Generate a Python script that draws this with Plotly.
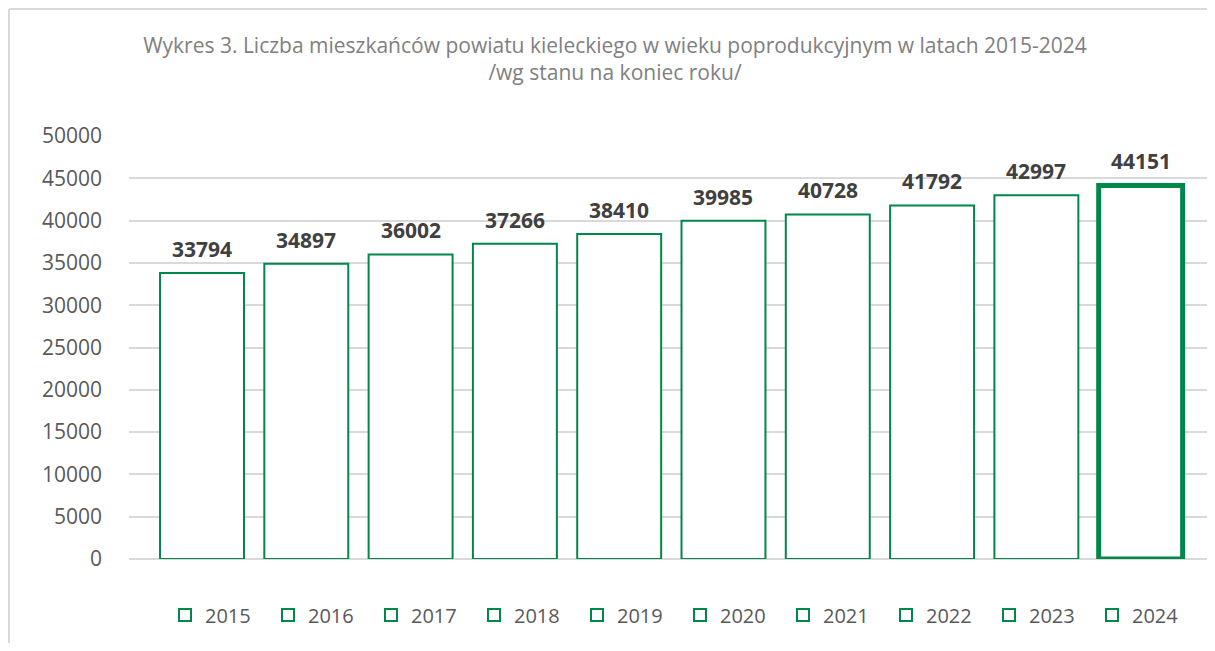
import plotly.graph_objects as go

years = ["2015", "2016", "2017", "2018", "2019", "2020", "2021", "2022", "2023", "2024"]
values = [33794, 34897, 36002, 37266, 38410, 39985, 40728, 41792, 42997, 44151]
line_widths = [2, 2, 2, 2, 2, 2, 2, 2, 2, 5]

GREEN = "#00884b"
FONT = "Open Sans"

fig = go.Figure()
for i, (yr, val, lw) in enumerate(zip(years, values, line_widths)):
    fig.add_trace(go.Bar(
        x=[yr], y=[val], name=yr, width=0.805, showlegend=False,
        marker=dict(color="white", line=dict(color=GREEN, width=lw)),
    ))
    fig.add_annotation(
        x=i, y=val, text=f"<b>{val}</b>", showarrow=False,
        yanchor="bottom", yshift=8,
        font=dict(family=FONT, size=21, color="#404040"),
    )
# legend entries (thin outline squares for every year)
for yr in years:
    fig.add_trace(go.Bar(
        x=[yr], y=[None], name=yr, showlegend=True,
        marker=dict(color="white", line=dict(color=GREEN, width=2)),
    ))

W, H = 1199, 635
L, R, T, B = 121, 0, 128, 84
pw = W - L - R
ph = H - T - B

def px_x(p):
    return (p - L) / pw

def px_y(p):
    return (H - B - p) / ph

fig.add_shape(type="line", xref="paper", yref="paper",
              x0=px_x(1), x1=px_x(W), y0=px_y(1), y1=px_y(1),
              line=dict(color="#d9d9d9", width=2))
fig.add_shape(type="line", xref="paper", yref="paper",
              x0=px_x(1), x1=px_x(1), y0=px_y(1), y1=px_y(H),
              line=dict(color="#d9d9d9", width=2))

fig.update_layout(
    width=W, height=H,
    margin=dict(l=L, r=R, t=T, b=B, autoexpand=False),
    paper_bgcolor="white", plot_bgcolor="white",
    barmode="overlay",
    font=dict(family=FONT, color="#595959"),
    title=dict(
        text="Wykres 3. Liczba mieszkańców powiatu kieleckiego w wieku poprodukcyjnym w latach 2015-2024<br>/wg stanu na koniec roku/",
        x=607 / W, xanchor="center", xref="container",
        y=1 - 45 / H, yanchor="middle", yref="container",
        font=dict(family=FONT, size=21, color="#808080"),
    ),
    xaxis=dict(
        type="category", range=[-0.70, 9.636], showticklabels=False,
        showgrid=False, zeroline=False, showline=False, ticks="",
    ),
    yaxis=dict(
        range=[0, 50000], dtick=5000, tickformat="d",
        showgrid=True, gridcolor="#d9d9d9", gridwidth=1.5,
        zeroline=True, zerolinecolor="#d9d9d9", zerolinewidth=1.5,
        showline=False, ticks="", ticklabelstandoff=26, automargin=False,
        tickfont=dict(family=FONT, size=21, color="#595959"),
    ),
    showlegend=True,
    legend=dict(
        orientation="h", x=px_x(157), xanchor="left",
        y=px_y(607), yanchor="middle",
        entrywidth=58, entrywidthmode="pixels",
        font=dict(family=FONT, size=20, color="#595959"),
        bgcolor="rgba(0,0,0,0)",
    ),
)

fig.write_html("out.html")
